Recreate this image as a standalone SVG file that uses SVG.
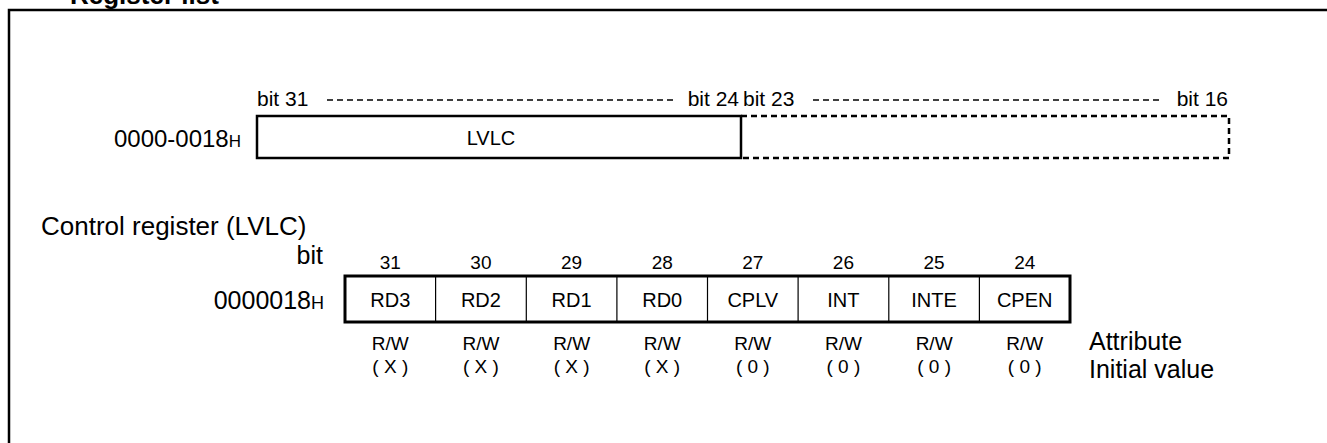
<svg xmlns="http://www.w3.org/2000/svg" width="1327" height="443" viewBox="0 0 1327 443">
<style>
text{font-family:"Liberation Sans",Arial,sans-serif;fill:#000}
.t21{font-size:21px}
.t20{font-size:20px}
.t19{font-size:19px}
.t25{font-size:25px}
.mid{text-anchor:middle}
.end{text-anchor:end}
.frame{fill:none;stroke:#000;stroke-width:2.5}
.solid{fill:#fff;stroke:#000;stroke-width:2.5}
.dbox{fill:none;stroke:#000;stroke-width:2.5;stroke-dasharray:6 4}
.dline{stroke:#000;stroke-width:1.6;stroke-dasharray:6 4}
.div{stroke:#000;stroke-width:1.2}
.reg{fill:#fff;stroke:#000;stroke-width:3}
</style>
<rect width="1327" height="443" fill="#fff"/>
<text x="70" y="4" style="font-size:26px;font-weight:bold">Register list</text>
<polyline class="frame" points="9,443 9,10 1327,10"/>

<g id="overview">
  <text class="t21" x="257" y="106">bit 31</text>
  <text class="t21 end" x="739" y="106">bit 24</text>
  <text class="t21" x="743" y="106">bit 23</text>
  <text class="t21 end" x="1228" y="106">bit 16</text>
  <line class="dline" x1="327" y1="100" x2="673" y2="100"/>
  <line class="dline" x1="813" y1="100" x2="1163" y2="100"/>
  <text x="241" y="147" class="end" style="font-size:24px">0000-0018<tspan style="font-size:17px">H</tspan></text>
</g>
<g id="lvlc-field">
  <rect class="solid" x="257" y="116" width="484" height="42"/>
  <text class="t20 mid" x="491" y="145">LVLC</text>
</g>
<g id="reserved-field">
  <path class="dbox" d="M741,116 H1229 V158 H741"/>
</g>

<g id="control-register">
  <text x="41" y="235" style="font-size:26px">Control register (LVLC)</text>
  <text class="t25 end" x="323" y="264">bit</text>
  <text x="324" y="309" class="end" style="font-size:25px">0000018<tspan style="font-size:18px">H</tspan></text>
  <rect class="reg" x="345" y="276" width="725" height="46"/>
  <line class="div" x1="435.6" y1="276" x2="435.6" y2="322"/>
  <line class="div" x1="526.3" y1="276" x2="526.3" y2="322"/>
  <line class="div" x1="616.9" y1="276" x2="616.9" y2="322"/>
  <line class="div" x1="707.5" y1="276" x2="707.5" y2="322"/>
  <line class="div" x1="798.1" y1="276" x2="798.1" y2="322"/>
  <line class="div" x1="888.8" y1="276" x2="888.8" y2="322"/>
  <line class="div" x1="979.4" y1="276" x2="979.4" y2="322"/>
  <text class="t19 mid" x="390.3" y="269">31</text>
  <text class="t19 mid" x="480.9" y="269">30</text>
  <text class="t19 mid" x="571.6" y="269">29</text>
  <text class="t19 mid" x="662.2" y="269">28</text>
  <text class="t19 mid" x="752.8" y="269">27</text>
  <text class="t19 mid" x="843.4" y="269">26</text>
  <text class="t19 mid" x="934.1" y="269">25</text>
  <text class="t19 mid" x="1024.7" y="269">24</text>
  <text class="t20 mid" x="390.3" y="307">RD3</text>
  <text class="t20 mid" x="480.9" y="307">RD2</text>
  <text class="t20 mid" x="571.6" y="307">RD1</text>
  <text class="t20 mid" x="662.2" y="307">RD0</text>
  <text class="t20 mid" x="752.8" y="307">CPLV</text>
  <text class="t20 mid" x="843.4" y="307">INT</text>
  <text class="t20 mid" x="934.1" y="307">INTE</text>
  <text class="t20 mid" x="1024.7" y="307">CPEN</text>
  <text class="t19 mid" x="390.3" y="350">R/W</text>
  <text class="t19 mid" x="480.9" y="350">R/W</text>
  <text class="t19 mid" x="571.6" y="350">R/W</text>
  <text class="t19 mid" x="662.2" y="350">R/W</text>
  <text class="t19 mid" x="752.8" y="350">R/W</text>
  <text class="t19 mid" x="843.4" y="350">R/W</text>
  <text class="t19 mid" x="934.1" y="350">R/W</text>
  <text class="t19 mid" x="1024.7" y="350">R/W</text>
  <text class="t19 mid" x="390.3" y="373">( X )</text>
  <text class="t19 mid" x="480.9" y="373">( X )</text>
  <text class="t19 mid" x="571.6" y="373">( X )</text>
  <text class="t19 mid" x="662.2" y="373">( X )</text>
  <text class="t19 mid" x="752.8" y="373">( 0 )</text>
  <text class="t19 mid" x="843.4" y="373">( 0 )</text>
  <text class="t19 mid" x="934.1" y="373">( 0 )</text>
  <text class="t19 mid" x="1024.7" y="373">( 0 )</text>
  <text class="t25" x="1089" y="350">Attribute</text>
  <text class="t25" x="1089" y="378">Initial value</text>
</g>
</svg>
